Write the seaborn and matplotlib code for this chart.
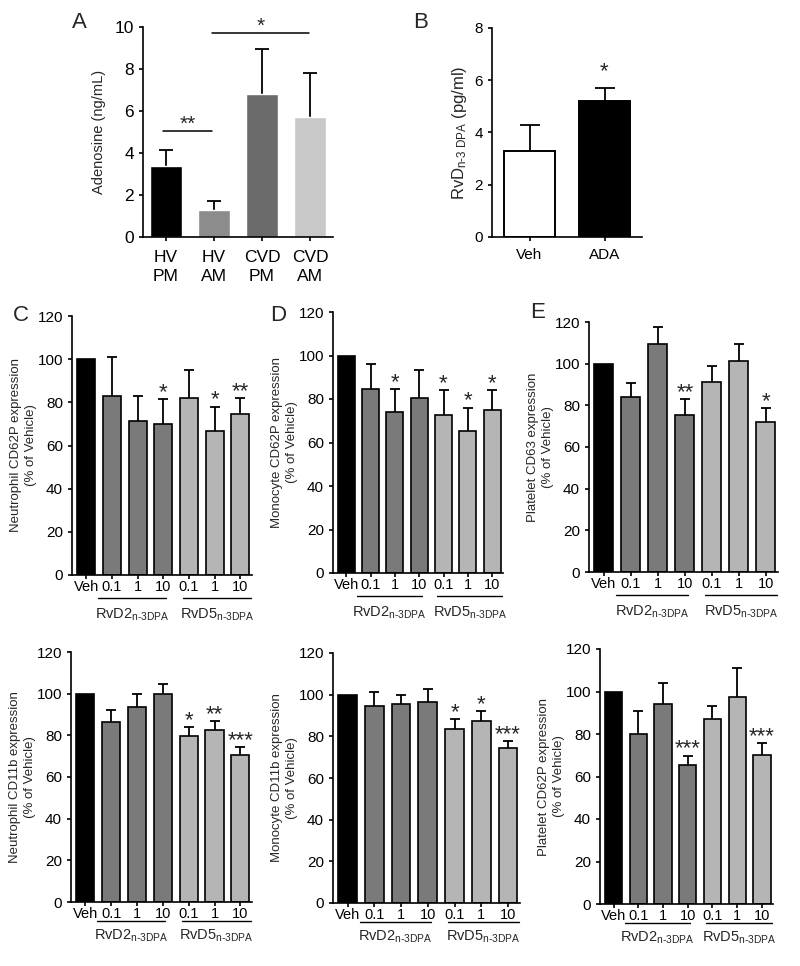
import numpy as np
import pandas as pd
import matplotlib
matplotlib.use('Agg')
import matplotlib.pyplot as plt
import seaborn as sns
from matplotlib.transforms import offset_copy

# Painel A - adenosina
adenosine_groups = ['HV\nPM', 'HV\nAM', 'CVD\nPM', 'CVD\nAM']
adenosine_mean = [3.4, 1.3, 6.8, 5.7]
adenosine_upper = [4.15, 1.7, 8.95, 7.8]
adenosine_colors = ['#000000', '#8c8c8c', '#6b6b6b', '#c8c8c8']

# Painel B - RvD n-3 DPA
rvd_groups = ['Veh', 'ADA']
rvd_mean = [3.3, 5.2]
rvd_upper = [4.3, 5.7]
rvd_stars = ['', '*']

# Paineis C-E e linha de baixo
conditions = ['Veh', 'RvD2 0.1', 'RvD2 1', 'RvD2 10', 'RvD5 0.1', 'RvD5 1', 'RvD5 10']
treatment = ['Veh', 'RvD2', 'RvD2', 'RvD2', 'RvD5', 'RvD5', 'RvD5']
dose_labels = ['Veh', '0.1', '1', '10', '0.1', '1', '10']

neu_cd62p_mean = [100, 83, 71.5, 70, 82.2, 66.5, 74.5]
neu_cd62p_upper = [np.nan, 100.8, 83, 81.4, 95, 78, 81.8]
neu_cd62p_stars = ['', '', '', '*', '', '*', '**']

mono_cd62p_mean = [100, 84.5, 74, 80.5, 72.5, 65.5, 75]
mono_cd62p_upper = [np.nan, 96, 84.5, 93.5, 84, 76, 84]
mono_cd62p_stars = ['', '', '*', '', '*', '*', '*']

plt_cd63_mean = [100, 84, 109.6, 75.5, 91, 101.1, 72.2]
plt_cd63_upper = [np.nan, 90.6, 117.6, 82.9, 98.7, 109.6, 78.6]
plt_cd63_stars = ['', '', '', '**', '', '', '*']

neu_cd11b_mean = [100, 86.2, 93.7, 100, 79.5, 82.6, 70.5]
neu_cd11b_upper = [np.nan, 92, 99.7, 104.8, 84, 86.7, 74.4]
neu_cd11b_stars = ['', '', '', '', '*', '**', '***']

mono_cd11b_mean = [100, 94.6, 95.7, 96.5, 83.7, 87.6, 74.3]
mono_cd11b_upper = [np.nan, 101.3, 99.8, 102.7, 88.3, 92.2, 77.8]
mono_cd11b_stars = ['', '', '', '', '*', '*', '***']

plt_cd62p_mean = [100, 80, 94, 65.4, 87.2, 97.2, 70.1]
plt_cd62p_upper = [np.nan, 91, 104.2, 69.8, 93.4, 111, 75.6]
plt_cd62p_stars = ['', '', '', '***', '', '', '***']

sns.set_style('ticks')
plt.rcParams['font.family'] = ['Liberation Sans', 'DejaVu Sans']
plt.rcParams['mathtext.fontset'] = 'custom'
plt.rcParams['mathtext.rm'] = 'Liberation Sans'
plt.rcParams['mathtext.default'] = 'regular'
plt.rcParams['axes.linewidth'] = 1.2
plt.rcParams['xtick.major.width'] = 1.2
plt.rcParams['ytick.major.width'] = 1.2
plt.rcParams['xtick.major.size'] = 3
plt.rcParams['ytick.major.size'] = 3

W, H = 800, 966
fig = plt.figure(figsize=(W / 100, H / 100), dpi=100)


def rect(left, top, right, bottom):
    # converte pixels da imagem em fração da figura
    return [left / W, 1 - bottom / H, (right - left) / W, (bottom - top) / H]


def estilo(ax):
    sns.despine(ax=ax)
    ax.tick_params(direction='out', colors='black')
    for s in ['left', 'bottom']:
        ax.spines[s].set_color('black')


def barras_erro(ax, media, topo, cap):
    # erro simétrico atrás das barras: só a parte de cima aparece
    media = np.array(media, dtype=float)
    err = np.array(topo, dtype=float) - media
    ok = ~np.isnan(err)
    xs = np.arange(len(media))
    ax.errorbar(xs[ok], media[ok], yerr=err[ok], fmt='none', ecolor='black',
                elinewidth=1.3, capsize=cap, capthick=1.3, zorder=0.5)


# ---------- A ----------
axA = fig.add_axes(rect(143, 27, 333, 237))
dfA = pd.DataFrame({'grupo': adenosine_groups, 'media': adenosine_mean})
sns.barplot(data=dfA, x='grupo', y='media', hue='grupo', palette=adenosine_colors,
            errorbar=None, width=0.66, legend=False, ax=axA, saturation=1)
barras_erro(axA, adenosine_mean, adenosine_upper, 5)
axA.set_ylim(0, 10)
axA.set_xlim(-0.48, 3.48)
axA.set_yticks([0, 2, 4, 6, 8, 10])
axA.set_xlabel('')
axA.set_ylabel('Adenosine (ng/mL)', fontsize=10.5, labelpad=6)
axA.tick_params(labelsize=12.5)
axA.tick_params(axis='x', pad=6)
for t in axA.get_xticklabels():
    t.set_linespacing(1.35)
estilo(axA)
axA.plot([-0.06, 0.96], [5.05, 5.05], color='black', lw=1.1)
axA.text(0.45, 5.1, '**', ha='center', va='baseline', fontsize=15)
axA.plot([0.96, 2.98], [9.7, 9.7], color='black', lw=1.1, clip_on=False)
axA.text(1.97, 9.75, '*', ha='center', va='baseline', fontsize=15)

# ---------- B ----------
axB = fig.add_axes(rect(492, 28, 642, 237))
dfB = pd.DataFrame({'grupo': rvd_groups, 'media': rvd_mean})
sns.barplot(data=dfB, x='grupo', y='media', hue='grupo', palette=['white', 'black'],
            errorbar=None, width=0.67, edgecolor='black', linewidth=1.4,
            legend=False, ax=axB, saturation=1)
barras_erro(axB, rvd_mean, rvd_upper, 7)
for i, s in enumerate(rvd_stars):
    if s:
        axB.text(i, rvd_upper[i] + 0.4, s, ha='center', va='baseline', fontsize=16)
axB.set_ylim(0, 8)
axB.set_xlim(-0.5, 1.5)
axB.set_yticks([0, 2, 4, 6, 8])
axB.set_xlabel('')
axB.set_ylabel(r'RvD$_{\text{n-3 DPA}}$ (pg/ml)', fontsize=12, labelpad=4)
axB.tick_params(labelsize=11)
axB.tick_params(axis='x', pad=5)
estilo(axB)

# ---------- C-E e linha de baixo ----------
paineis = [
    (rect(72, 316, 252, 575), neu_cd62p_mean, neu_cd62p_upper, neu_cd62p_stars,
     'Neutrophil CD62P expression\n(% of Vehicle)', 23, 40),
    (rect(333, 312, 503, 573), mono_cd62p_mean, mono_cd62p_upper, mono_cd62p_stars,
     'Monocyte CD62P expression\n(% of Vehicle)', 23, 40),
    (rect(589, 322, 778, 572), plt_cd63_mean, plt_cd63_upper, plt_cd63_stars,
     'Platelet CD63 expression\n(% of Vehicle)', 23, 40),
    (rect(71, 652, 252, 902), neu_cd11b_mean, neu_cd11b_upper, neu_cd11b_stars,
     'Neutrophil CD11b expression\n(% of Vehicle)', 19, 34),
    (rect(333, 653, 520, 903), mono_cd11b_mean, mono_cd11b_upper, mono_cd11b_stars,
     'Monocyte CD11b expression\n(% of Vehicle)', 19, 34),
    (rect(600, 649, 773, 904), plt_cd62p_mean, plt_cd62p_upper, plt_cd62p_stars,
     'Platelet CD62P expression\n(% of Vehicle)', 19, 34),
]

cores = {'Veh': '#000000', 'RvD2': '#7a7a7a', 'RvD5': '#b5b5b5'}

for pos, media, topo, estrelas, ylab, off_linha, off_texto in paineis:
    ax = fig.add_axes(pos)
    df = pd.DataFrame({'cond': conditions, 'trat': treatment, 'media': media})
    sns.barplot(data=df, x='cond', y='media', hue='trat', palette=cores, dodge=False,
                errorbar=None, width=0.7, edgecolor='black', linewidth=1.2,
                legend=False, ax=ax, saturation=1)
    barras_erro(ax, media, topo, 3.5)
    for i, s in enumerate(estrelas):
        if s:
            ax.text(i, topo[i] + 0.5, s, ha='center', va='baseline', fontsize=16)
    xs = np.arange(len(conditions))
    ax.set_ylim(0, 120)
    ax.set_xlim(-0.55, 6.45)
    ax.set_yticks(range(0, 121, 20))
    ax.set_xticks(xs)
    ax.set_xticklabels(dose_labels)
    ax.set_xlabel('')
    ax.set_ylabel(ylab, fontsize=9.5, labelpad=0.5, linespacing=1.35)
    ax.tick_params(axis='y', labelsize=11)
    ax.tick_params(axis='x', labelsize=10.5, pad=0.5)
    estilo(ax)
    # linhas dos grupos abaixo dos rótulos
    t_linha = offset_copy(ax.get_xaxis_transform(), fig=fig, y=-off_linha, units='dots')
    t_texto = offset_copy(ax.get_xaxis_transform(), fig=fig, y=-off_texto, units='dots')
    for (x0, x1), nome in [((0.45, 3.1), 'RvD2'), ((3.75, 6.42), 'RvD5')]:
        ax.plot([x0, x1], [0, 0], color='black', lw=1.0, transform=t_linha, clip_on=False)
        ax.text((x0 + x1) / 2, 0, nome + r'$_{\text{n-3DPA}}$', ha='center', va='center',
                fontsize=10.5, transform=t_texto)

# letras dos painéis
for letra, x, y in [('A', 72, 12), ('B', 413, 12), ('C', 13, 305), ('D', 270, 305), ('E', 530, 302)]:
    fig.text(x / W, 1 - y / H, letra, fontsize=16, ha='left', va='top')

fig.savefig('out.png', dpi=100)
